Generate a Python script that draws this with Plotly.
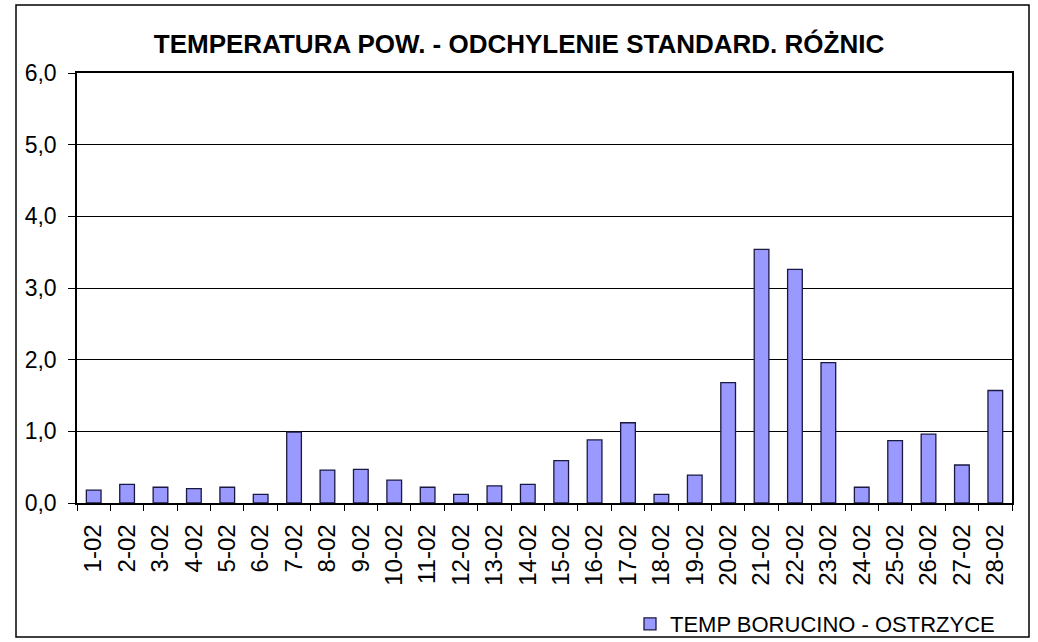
import plotly.graph_objects as go

categories = [f"{d}-02" for d in range(1, 29)]
values = [0.18, 0.26, 0.22, 0.20, 0.22, 0.12, 0.99, 0.46, 0.47, 0.32,
          0.22, 0.12, 0.24, 0.26, 0.59, 0.88, 1.12, 0.12, 0.39, 1.68,
          3.54, 3.26, 1.96, 0.22, 0.87, 0.96, 0.53, 1.57]
series_name = "TEMP BORUCINO - OSTRZYCE"
title_text = "TEMPERATURA POW. - ODCHYLENIE STANDARD. RÓŻNIC"
y_ticks = [0, 1, 2, 3, 4, 5, 6]

fig = go.Figure()
fig.add_trace(go.Bar(
    x=categories, y=values, name=series_name,
    marker=dict(color="#9999FF", line=dict(color="#1a1a40", width=1.3)),
    showlegend=True,
))

FONT = "Liberation Sans, Arial, sans-serif"
fig.update_layout(
    width=1038, height=642,
    margin=dict(l=77, r=26, t=73, b=139),
    paper_bgcolor="white", plot_bgcolor="white",
    separators=", ",
    bargap=0.56,
    font=dict(family=FONT, color="black", size=20),
    title=dict(text="<b>" + title_text + "</b>", x=0.5, xanchor="center",
               y=1 - 44 / 642, yanchor="middle",
               font=dict(family=FONT, size=26, color="black")),
    xaxis=dict(type="category", tickangle=-90, tickson="boundaries",
               ticks="outside", ticklen=6, tickcolor="black",
               showline=True, linecolor="black", linewidth=1.5, mirror=True,
               showgrid=False, tickfont=dict(size=24),
               ticklabelstandoff=10, automargin=False),
    yaxis=dict(range=[0, 6], tickvals=y_ticks, tickformat=".1f",
               ticks="outside", ticklen=7, tickcolor="black",
               showline=True, linecolor="black", linewidth=1.5, mirror=True,
               showgrid=True, gridcolor="black", gridwidth=1,
               zeroline=False, tickfont=dict(size=23),
               ticklabelstandoff=7, automargin=False),
    legend=dict(x=(1000 - 77) / 935, xanchor="right",
                yref="container", y=1 - 624 / 642, yanchor="middle",
                font=dict(size=22), bgcolor="rgba(0,0,0,0)",
                itemwidth=30),
    shapes=[dict(type="rect", xref="paper", yref="paper",
                 x0=(16 - 77) / 935, x1=(1029 - 77) / 935,
                 y0=(503 - 637) / 430, y1=(503 - 5) / 430,
                 line=dict(color="black", width=1.5), layer="below")],
)

fig.write_html(
    "out.html",
    config={"displayModeBar": False},
    post_script="document.body.style.margin='0';document.body.style.overflow='hidden';",
)
